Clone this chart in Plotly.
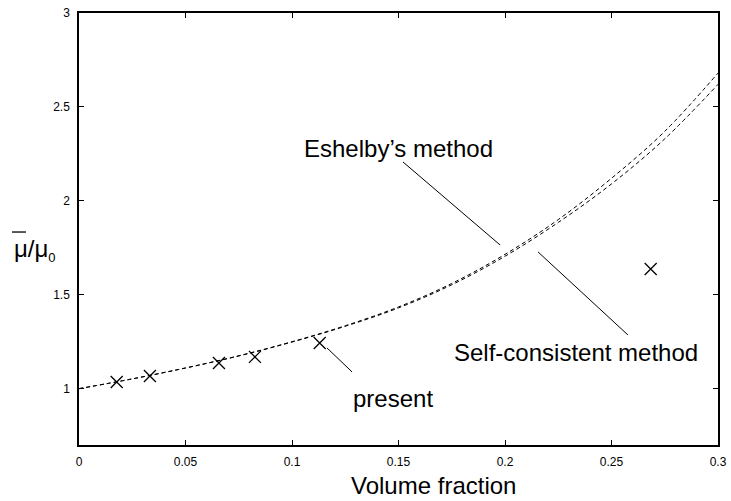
import plotly.graph_objects as go

# Curves
vf_curve = [0.0, 0.025, 0.05, 0.075, 0.1, 0.125, 0.15, 0.175, 0.2, 0.225, 0.25, 0.275, 0.3]
eshelby = [1.00, 1.052, 1.11, 1.175, 1.25, 1.335, 1.435, 1.56, 1.715, 1.90, 2.12, 2.37, 2.68]
selfcons = [1.00, 1.052, 1.11, 1.174, 1.248, 1.332, 1.43, 1.553, 1.705, 1.885, 2.09, 2.33, 2.62]

# "present" results
vf_present = [0.0177, 0.0333, 0.0657, 0.0826, 0.113, 0.2684]
mu_present = [1.035, 1.067, 1.137, 1.169, 1.243, 1.637]

x_ticks = [0, 0.05, 0.1, 0.15, 0.2, 0.25, 0.3]
x_tick_text = ["0", "0.05", "0.1", "0.15", "0.2", "0.25", "0.3"]
y_ticks = [1, 1.5, 2, 2.5, 3]
y_tick_text = ["1", "1.5", "2", "2.5", "3"]

FONT = "Liberation Sans, Arial, sans-serif"

fig = go.Figure()
for ys in (eshelby, selfcons):
    fig.add_trace(go.Scatter(x=vf_curve, y=ys, mode="lines", line_shape="spline",
                             line=dict(color="black", width=1, dash="4px,3px"),
                             showlegend=False, hoverinfo="skip"))
fig.add_trace(go.Scatter(x=vf_present, y=mu_present, mode="markers",
                         marker=dict(symbol="x-thin", size=12, color="black",
                                     line=dict(color="black", width=1.3)),
                         showlegend=False))

axis_common = dict(showgrid=False, zeroline=False, showline=True, linecolor="black",
                   linewidth=1.5, mirror="ticks", ticks="inside", ticklen=5,
                   tickcolor="black", tickwidth=1, ticklabelstandoff=5,
                   tickfont=dict(family=FONT, size=12, color="black"))

fig.update_xaxes(range=[0, 0.3], tickvals=x_ticks, ticktext=x_tick_text, **axis_common)
fig.update_yaxes(range=[0.7, 3], tickvals=y_ticks, ticktext=y_tick_text, **axis_common)

line_style = dict(color="black", width=1)
shapes = [
    dict(type="line", xref="x", yref="y", x0=0.1521, y0=2.207, x1=0.1977, y1=1.765, line=line_style),
    dict(type="line", xref="x", yref="y", x0=0.2155, y0=1.728, x1=0.2577, y1=1.286, line=line_style),
    dict(type="line", xref="x", yref="y", x0=0.1164, y0=1.217, x1=0.1282, y1=1.089, line=line_style),
    # overline of the y-axis label's first mu
    dict(type="line", xref="paper", yref="paper", x0=-0.1049, x1=-0.0830, y0=0.493, y1=0.493,
         line=dict(color="black", width=1.3)),
]

ann_font = dict(family=FONT, size=24, color="black")
annotations = [
    dict(x=0.1502, y=2.281, xref="x", yref="y", text="Eshelby’s method", showarrow=False, font=ann_font),
    dict(x=0.2333, y=1.195, xref="x", yref="y", text="Self-consistent method", showarrow=False, font=ann_font),
    dict(x=0.1474, y=0.950, xref="x", yref="y", text="present", showarrow=False, font=ann_font),
    dict(x=(433 - 79) / 639, y=-0.1285, xref="paper", yref="paper", xanchor="center", yanchor="bottom",
         text="Volume fraction", showarrow=False, font=ann_font),
    dict(x=-0.1049, y=0.451, xref="paper", yref="paper", xanchor="left", yanchor="middle",
         text="μ/μ<sub><span style='font-size:13px'>0</span></sub>", showarrow=False, font=ann_font),
]

fig.update_layout(width=731, height=501,
                  margin=dict(l=79, r=13, t=13, b=56, autoexpand=False),
                  plot_bgcolor="white", paper_bgcolor="white",
                  shapes=shapes, annotations=annotations)

fig.write_html("out.html")
